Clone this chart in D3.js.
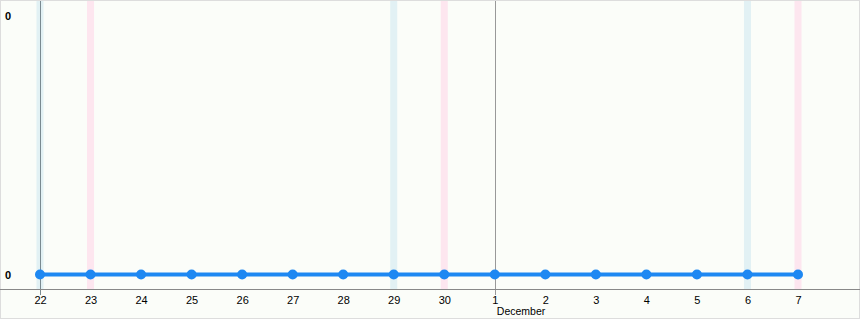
<!DOCTYPE html>
<html>
<head>
<meta charset="utf-8">
<script src="https://cdn.jsdelivr.net/npm/d3@7"></script>
<style>
  body { margin: 0; background: #ffffff; }
  svg { display: block; font-family: "Liberation Sans", Arial, sans-serif; }
</style>
</head>
<body>
<div id="chart"></div>
<script>
// data
var dates = ["2008-11-22", "2008-11-23", "2008-11-24", "2008-11-25", "2008-11-26",
  "2008-11-27", "2008-11-28", "2008-11-29", "2008-11-30", "2008-12-01",
  "2008-12-02", "2008-12-03", "2008-12-04", "2008-12-05", "2008-12-06", "2008-12-07"];
var values = [0, 0, 0, 0, 0, 0, 0, 0, 0, 0, 0, 0, 0, 0, 0, 0];
var yTickValues = [0, 1];
var yTickLabels = ["0", "0"];
var monthLabels = [{ date: "2008-12-01", text: "December" }];

var parseDate = d3.timeParse("%Y-%m-%d");
var data = dates.map(function(d, i) {
  return { date: parseDate(d), value: values[i] };
});

var svgWidth = 860;
var svgHeight = 320;

var svg = d3.select("#chart")
  .append("svg")
  .attr("width", svgWidth)
  .attr("height", svgHeight);

// frame and plot background
svg.append("rect")
  .attr("x", 0.5).attr("y", 0.5)
  .attr("width", svgWidth - 1).attr("height", svgHeight - 2)
  .attr("fill", "#fbfdf9")
  .attr("stroke", "#dddddd");

var axisY = 289;

// scales
var xScale = d3.scaleTime()
  .domain([data[0].date, data[data.length - 1].date])
  .range([40, 798]);

var yScale = d3.scaleLinear()
  .domain([0, 1])
  .range([274.5, 16]);

// weekend bands
svg.append("g").selectAll("rect")
  .data(data.filter(function(d) { return d.date.getDay() === 6 || d.date.getDay() === 0; }))
  .enter()
  .append("rect")
  .attr("x", function(d) { return xScale(d.date) - 3.5; })
  .attr("y", 1)
  .attr("width", 7)
  .attr("height", axisY - 1)
  .attr("fill", function(d) { return d.date.getDay() === 6 ? "#e2f1f4" : "#fde6ef"; });

// vertical marker lines (start and month boundaries)
var markers = [data[0].date].concat(monthLabels.map(function(m) { return parseDate(m.date); }));
svg.append("g").selectAll("line")
  .data(markers)
  .enter()
  .append("line")
  .attr("x1", function(d) { return Math.round(xScale(d)) + 0.5; })
  .attr("x2", function(d) { return Math.round(xScale(d)) + 0.5; })
  .attr("y1", 1)
  .attr("y2", axisY + 6)
  .attr("stroke", function(d, i) { return i === 0 ? "#7a8a90" : "#999999"; })
  .attr("stroke-width", 1);

// x axis
var bottomAxis = d3.axisBottom(xScale)
  .tickValues(data.map(function(d) { return d.date; }))
  .tickFormat(d3.timeFormat("%-d"))
  .tickSize(0)
  .tickPadding(7);

var xAxis = svg.append("g")
  .attr("transform", `translate(0, ${axisY})`)
  .call(bottomAxis);

xAxis.select(".domain").remove();
xAxis.selectAll("text")
  .attr("font-size", "11px")
  .attr("fill", "#000")
  .attr("font-family", "Liberation Sans, Arial, sans-serif");

svg.append("line")
  .attr("x1", 0).attr("x2", svgWidth)
  .attr("y1", axisY + 0.5).attr("y2", axisY + 0.5)
  .attr("stroke", "#888888");

// month labels
svg.append("g").selectAll("text")
  .data(monthLabels)
  .enter()
  .append("text")
  .attr("x", function(d) { return xScale(parseDate(d.date)) + 2; })
  .attr("y", 315)
  .attr("font-size", "10.5px")
  .attr("fill", "#000")
  .text(function(d) { return d.text; });

// y axis labels
var leftAxis = d3.axisRight(yScale)
  .tickValues(yTickValues)
  .tickFormat(function(d, i) { return yTickLabels[i]; })
  .tickSize(0)
  .tickPadding(0);

var yAxis = svg.append("g")
  .attr("transform", "translate(5, 0)")
  .call(leftAxis);

yAxis.select(".domain").remove();
yAxis.selectAll("text")
  .attr("font-size", "11px")
  .attr("font-weight", "bold")
  .attr("fill", "#000")
  .attr("font-family", "Liberation Sans, Arial, sans-serif");

// line
var line = d3.line()
  .x(function(d) { return xScale(d.date); })
  .y(function(d) { return yScale(d.value); });

svg.append("path")
  .datum(data)
  .attr("d", line)
  .attr("fill", "none")
  .attr("stroke", "#1e88f2")
  .attr("stroke-width", 4);

svg.append("g").selectAll("circle")
  .data(data)
  .enter()
  .append("circle")
  .attr("cx", function(d) { return xScale(d.date); })
  .attr("cy", function(d) { return yScale(d.value); })
  .attr("r", 5)
  .attr("fill", "#1e88f2");
</script>
</body>
</html>
